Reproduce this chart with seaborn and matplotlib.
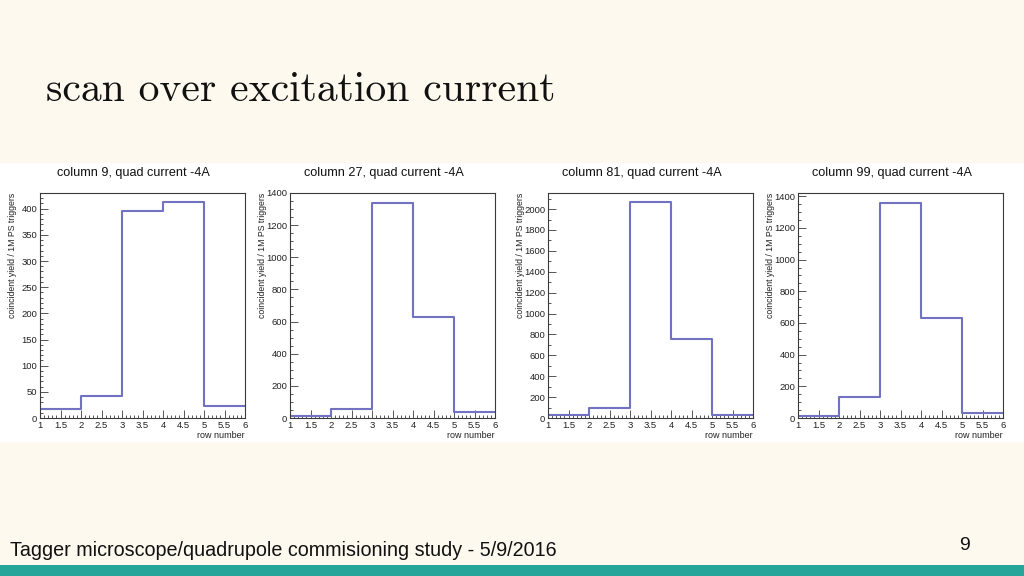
import matplotlib
matplotlib.use('Agg')
import matplotlib.pyplot as plt
import matplotlib.ticker as mticker
from matplotlib.patches import Rectangle
import seaborn as sns

sns.set_style('white')
plt.rcParams['font.family'] = ['Liberation Sans', 'DejaVu Sans']

# data
row_edges = [1, 2, 3, 4, 5, 6]
row_centers = [1.5, 2.5, 3.5, 4.5, 5.5]
columns = [9, 27, 81, 99]
quad_current = '-4A'
yield_col9 = [18, 43, 395, 412, 22]
yield_col27 = [15, 54, 1338, 630, 35]
yield_col81 = [26, 99, 2064, 760, 29]
yield_col99 = [13, 131, 1358, 633, 30]
all_yields = [yield_col9, yield_col27, yield_col81, yield_col99]

y_tops = [430, 1400, 2154, 1421]
y_major = [50, 200, 200, 200]
y_minor = [10, 50, 100, 50]

W, H = 1024, 576
cream = '#fdf9ee'
line_color = '#7272c2'
frame_color = '#3a3a3a'

fig = plt.figure(figsize=(W / 100, H / 100), dpi=100, facecolor=cream)

# white strip behind the histograms, teal bar at the bottom
fig.patches.append(Rectangle((0, 1 - 442 / H), 1, 279 / H, transform=fig.transFigure,
                             facecolor='white', edgecolor='none', zorder=-10))
fig.patches.append(Rectangle((0, 0), 1, 11 / H, transform=fig.transFigure,
                             facecolor='#26a69a', edgecolor='none', zorder=-10))

fig.text(46 / W, 1 - 90 / H, 'scan over excitation current', family='cmr10',
         fontsize=30, va='center', ha='left', color='#111111')

lefts = [40, 290, 548, 798]
ax_w, ax_top, ax_bot = 205, 193, 418

for i, (col, vals) in enumerate(zip(columns, all_yields)):
    ax = fig.add_axes([lefts[i] / W, 1 - ax_bot / H, ax_w / W, (ax_bot - ax_top) / H])
    ax.set_zorder(5)
    ax.set_facecolor('white')
    sns.histplot(x=row_centers, weights=vals, bins=row_edges, element='step', fill=False,
                 color=line_color, linewidth=1.5, ax=ax)
    ax.set_xlim(1, 6)
    ax.set_ylim(0, y_tops[i])
    for s in ax.spines.values():
        s.set_color(frame_color)
        s.set_linewidth(0.8)
    ax.xaxis.set_major_locator(mticker.MultipleLocator(0.5))
    ax.xaxis.set_minor_locator(mticker.MultipleLocator(0.1))
    ax.yaxis.set_major_locator(mticker.MultipleLocator(y_major[i]))
    ax.yaxis.set_minor_locator(mticker.MultipleLocator(y_minor[i]))
    ax.xaxis.set_major_formatter(mticker.FormatStrFormatter('%g'))
    ax.tick_params(which='both', direction='in', left=True, bottom=True, top=False, right=False,
                   color=frame_color, width=0.6, labelsize=6.8, pad=2, labelcolor='#222222')
    ax.tick_params(which='major', length=5.5)
    ax.tick_params(which='minor', length=2.5)
    ax.set_ylabel('coincident yield / 1M PS triggers', loc='top', fontsize=6.3, color='#222222')
    ax.yaxis.set_label_coords(-23 / ax_w, 1.0)
    ax.set_xlabel('row number', loc='right', fontsize=6.5, color='#222222')
    ax.xaxis.set_label_coords(1.0, -13 / (ax_bot - ax_top))
    cx = lefts[i] + ax_w / 2 - 9
    fig.text(cx / W, 1 - 173 / H, f'column {col}, quad current {quad_current}',
             fontsize=9.1, ha='center', va='center', color='#111111')

fig.text(10 / W, 1 - 550 / H, 'Tagger microscope/quadrupole commisioning study - 5/9/2016',
         fontsize=14.2, ha='left', va='center', color='#111111')
fig.text(965 / W, 1 - 545 / H, '9', fontsize=14, ha='center', va='center', color='#111111')

fig.savefig('out.png', dpi=100, facecolor=cream)
